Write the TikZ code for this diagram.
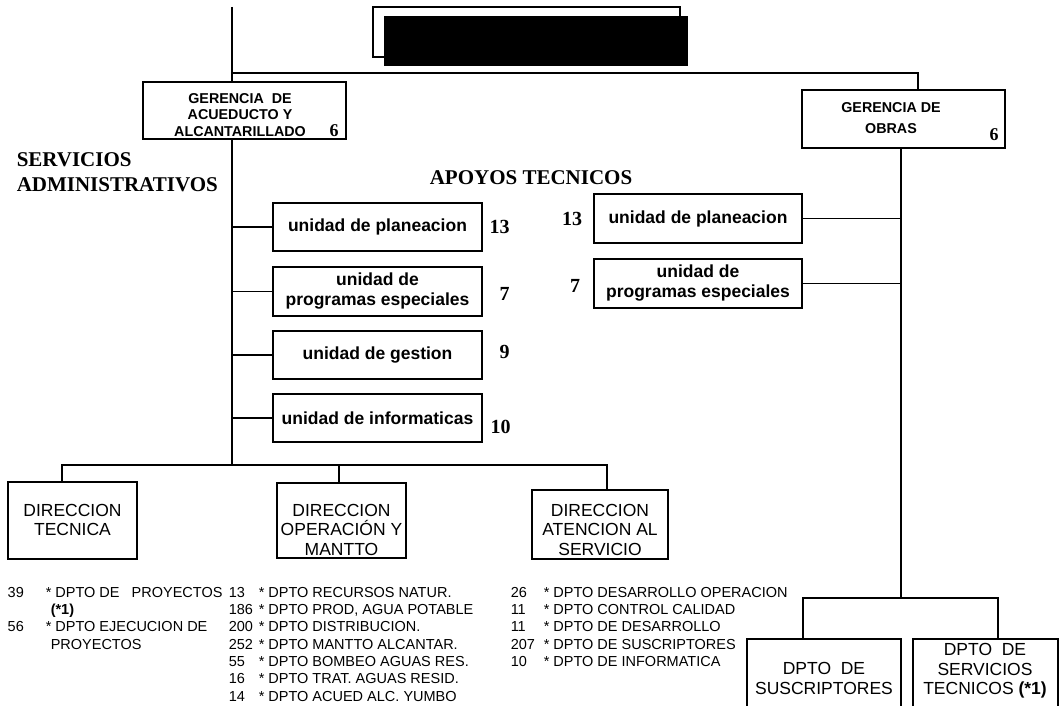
\documentclass[tikz,border=0pt]{standalone}
\usepackage{fontspec}
\setmainfont{Liberation Sans}
\newfontfamily\tnr{Liberation Serif}
\newcommand{\fDir}{\fontsize{17.5}{19.5}\selectfont}
\newcommand{\fList}{\fontsize{14.5}{17.3}\selectfont}
\newcommand{\fGer}{\bfseries\fontsize{14.3}{16.5}\selectfont}
\newcommand{\fGerB}{\bfseries\fontsize{14.3}{21}\selectfont}
\newcommand{\fUni}{\bfseries\fontsize{17.5}{20}\selectfont}
\newcommand{\fNum}{\tnr\bfseries\fontsize{20}{22}\selectfont}
\newcommand{\fSix}{\tnr\bfseries\fontsize{18}{20}\selectfont}
\newcommand{\fHead}{\tnr\bfseries\fontsize{21}{25}\selectfont}
\begin{document}
\begin{tikzpicture}[x=1pt,y=-1pt,line width=1.5pt,
  box/.style={draw,line width=1.5pt,inner sep=0pt,align=center},
  txt/.style={inner sep=0pt,align=center},
  num/.style={inner sep=0pt,font=\fNum},
  six/.style={inner sep=0pt,font=\fSix},
  lst/.style={inner sep=0pt,anchor=base west,font=\fList},
  conn/.style={line width=1.8pt}]
\useasboundingbox (0,0) rectangle (1059,706);
\clip (0,0) rectangle (1059,706);

% title
\node[draw,line width=1.4pt,minimum width=307pt,minimum height=50pt,inner sep=0pt] (titleframe) at (526.5,32) {};
\node[fill=black,minimum width=304pt,minimum height=50pt,inner sep=0pt] (titlebox) at (536,41) {};

% gerencias
\node[box,minimum width=203pt,minimum height=57pt] (aa) at (244.5,110.5) {};
\node[txt,font=\fGer] (aat) at (240,115) {GERENCIA\ \ DE\\ACUEDUCTO Y\\ALCANTARILLADO};
\node[six] (aa6) at (334,131) {6};

\node[box,minimum width=203pt,minimum height=58pt] (ob) at (903.5,119) {};
\node[txt,font=\fGerB] (obt) at (891,118.5) {GERENCIA DE\\OBRAS};
\node[six] (ob6) at (994,135) {6};

% headings
\node[inner sep=0pt,font=\fHead,align=left,anchor=west] (serv) at (16,172.5) {SERVICIOS\\ADMINISTRATIVOS};
\node[inner sep=0pt,font=\fHead,anchor=west] (apoyos) at (429,178) {APOYOS TECNICOS};

% left unidades
\node[box,font=\fUni,minimum width=209pt,minimum height=48pt] (u1) at (377.5,227) {unidad de planeacion};
\node[box,font=\fUni,minimum width=209pt,minimum height=49pt] (u2) at (377.5,291.5) {unidad de\\programas especiales};
\node[box,font=\fUni,minimum width=209pt,minimum height=48pt] (u3) at (377.5,355) {unidad de gestion};
\node[box,font=\fUni,minimum width=209pt,minimum height=48pt] (u4) at (377.5,418) {unidad de informaticas};
\node[num] (n1) at (499.5,227) {13};
\node[num] (n2) at (504.5,294) {7};
\node[num] (n3) at (504.5,352) {9};
\node[num] (n4) at (500.5,427) {10};

% right unidades
\node[box,font=\fUni,minimum width=208pt,minimum height=49pt] (r1) at (698,218.5) {unidad de planeacion};
\node[box,font=\fUni,minimum width=208pt,minimum height=49pt] (r2) at (698,283.5) {unidad de\\programas especiales};
\node[num] (rn1) at (572,219) {13};
\node[num] (rn2) at (575,286) {7};

% direcciones
\node[box,minimum width=129pt,minimum height=77pt] (b1) at (72.5,520.5) {};
\node[txt,font=\fDir] (b1t) at (72.5,520) {DIRECCION\\TECNICA};
\node[box,minimum width=129pt,minimum height=75pt] (b2) at (341.5,520.5) {};
\node[txt,font=\fDir] (b2t) at (341.5,529.5) {DIRECCION\\OPERACIÓN Y\\MANTTO};
\node[box,minimum width=136pt,minimum height=69pt] (b3) at (600,524.5) {};
\node[txt,font=\fDir] (b3t) at (600,529.5) {DIRECCION\\ATENCION AL\\SERVICIO};

% dptos
\node[box,minimum width=154pt,minimum height=73pt] (d1) at (824,675.5) {};
\node[txt,font=\fDir] (d1t) at (824,678.5) {DPTO\ \ DE\\SUSCRIPTORES};
\node[box,minimum width=145pt,minimum height=73pt] (d2) at (985.5,675.5) {};
\node[txt,font=\fDir] (d2t) at (985,671) {DPTO\ \ DE\\SERVICIOS\\TECNICOS \textbf{(*1)}};

% connectors
\coordinate (top) at (232,7);
\coordinate (bus) at (232,465);
\coordinate (rv) at (901,598);
\draw[conn] (top) -- (top |- aa.north);
\draw[conn] (aa.south -| top) -- (bus);
\draw[conn] (top |- 0,73) -| ([xshift=14.5pt]ob.north);
\foreach \u in {u1,u2,u3,u4} \draw[conn] (\u.west) -- (\u.west -| top);
\draw[conn] ([xshift=-10.5pt]b1.north) |- (bus) -| ([xshift=7pt]b3.north);
\draw[conn] ([xshift=-2.5pt]b2.north) |- (bus);
\draw[conn] (ob.south -| rv) -- (rv);
\foreach \r in {r1,r2} \draw[conn] (\r.east) -- (\r.east -| rv);
\draw[conn] ([xshift=-21pt]d1.north) |- (rv) -| ([xshift=12.5pt]d2.north);

% lists
\node[lst] (c1n1) at (7,597.2) {39};
\node[lst] (c1t1) at (45,597.2) {* DPTO DE\ \ \ PROYECTOS};
\node[lst,font=\fList\bfseries] (c1t2) at (50,614.5) {(*1)};
\node[lst] (c1n3) at (7,631.8) {56};
\node[lst] (c1t3) at (45,631.8) {* DPTO EJECUCION DE};
\node[lst] (c1t4) at (50,649.1) {PROYECTOS};

\foreach \n/\t [count=\i] in {13/{* DPTO RECURSOS NATUR.},186/{* DPTO PROD, AGUA POTABLE},200/{* DPTO DISTRIBUCION.},252/{* DPTO MANTTO ALCANTAR.},55/{* DPTO BOMBEO AGUAS RES.},16/{* DPTO TRAT. AGUAS RESID.},14/{* DPTO ACUED ALC. YUMBO}} {
  \node[lst] (c2n\i) at (228,{597.2+17.3*(\i-1)}) {\n};
  \node[lst] (c2t\i) at (258,{597.2+17.3*(\i-1)}) {\t};
}
\foreach \n/\t [count=\i] in {26/{* DPTO DESARROLLO OPERACION},11/{* DPTO CONTROL CALIDAD},11/{* DPTO DE DESARROLLO},207/{* DPTO DE SUSCRIPTORES},10/{* DPTO DE INFORMATICA}} {
  \node[lst] (c3n\i) at (510,{597.2+17.3*(\i-1)}) {\n};
  \node[lst] (c3t\i) at (543,{597.2+17.3*(\i-1)}) {\t};
}
\end{tikzpicture}
\end{document}
